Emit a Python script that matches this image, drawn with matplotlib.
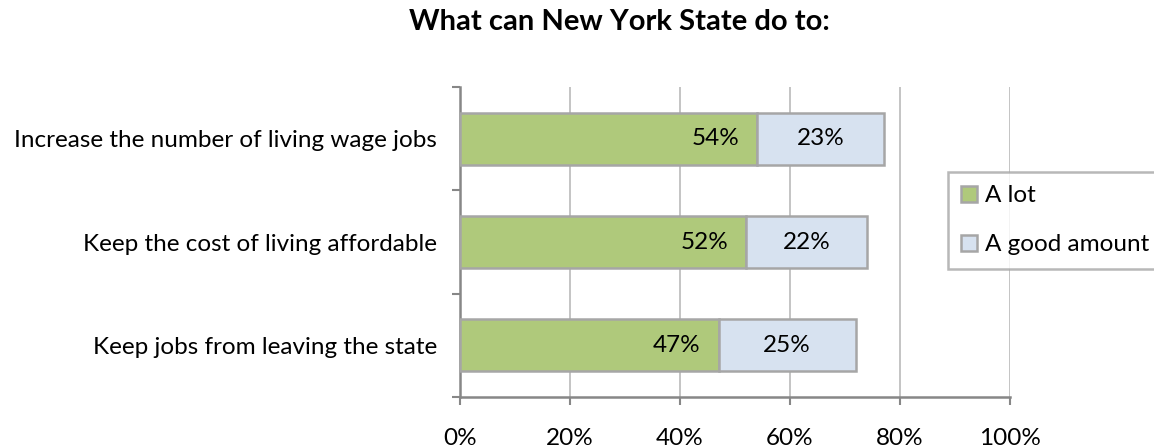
import matplotlib
matplotlib.use('Agg')
import matplotlib.pyplot as plt
import numpy as np

plt.rcParams['font.family'] = ['Lato', 'DejaVu Sans']

# survey answers, top row first
categories = ["Increase the number of living wage jobs",
              "Keep the cost of living affordable",
              "Keep jobs from leaving the state"]
a_lot = [54, 52, 47]
good_amount = [23, 22, 25]
xticks = [0, 20, 40, 60, 80, 100]

green = '#AFC97B'
blue = '#D7E2F0'
edge = '#A6A6A6'
axis_gray = '#878787'
fs = 17.5

fig = plt.figure(figsize=(11.54, 4.48), dpi=100)
ax = fig.add_axes([460 / 1154, 1 - 397 / 448, 550 / 1154, 310 / 448])

y = np.arange(len(categories))[::-1]
b1 = ax.barh(y, a_lot, height=0.5, color=green, edgecolor=edge, linewidth=1.8,
             label='A lot', zorder=3)
b2 = ax.barh(y, good_amount, left=a_lot, height=0.5, color=blue, edgecolor=edge,
             linewidth=1.8, label='A good amount', zorder=3)

# "A lot" labels sit inside the end of the green bar, the rest are centred
for yi, v in zip(y, a_lot):
    ax.annotate(f'{v}%', (v, yi), xytext=(-13, 0), textcoords='offset points',
                ha='right', va='center', fontsize=fs, zorder=4)
for yi, left, v in zip(y, a_lot, good_amount):
    ax.annotate(f'{v}%', (left + v / 2, yi), ha='center', va='center',
                fontsize=fs, zorder=4)

ax.set_xlim(0, 100)
ax.set_ylim(-0.5, len(categories) - 0.5)
ax.set_xticks(xticks)
ax.set_xticklabels([f'{t}%' for t in xticks], fontsize=fs)
ax.tick_params(axis='x', length=6, width=1.5, color=axis_gray, pad=16)

# category names sit between boundary ticks
ax.set_yticks(y)
ax.set_yticklabels(categories, fontsize=fs)
ax.set_yticks(np.arange(-0.5, len(categories)), minor=True)
ax.tick_params(axis='y', which='major', length=0, pad=16.5)
ax.tick_params(axis='y', which='minor', length=6, width=1.5, color=axis_gray)

ax.grid(axis='x', color='#BFBFBF', linewidth=1.3, zorder=0)
for s in ['top', 'right']:
    ax.spines[s].set_visible(False)
for s in ['left', 'bottom']:
    ax.spines[s].set_color(axis_gray)
    ax.spines[s].set_linewidth(1.8)

fig.text(619 / 1154, 1 - 22 / 448, 'What can New York State do to:',
         ha='center', va='center', fontsize=21, fontweight='bold')

leg = fig.legend(handles=[b1, b2], loc='upper left',
                 bbox_to_anchor=(948 / 1154, 1 - 172 / 448),
                 fontsize=fs, frameon=True, fancybox=False, edgecolor=edge,
                 handlelength=0.66, handleheight=0.66, handletextpad=0.33,
                 labelspacing=1.15, borderpad=0.55, borderaxespad=0)
leg.get_frame().set_linewidth(1.8)

fig.savefig('out.png', dpi=100)
